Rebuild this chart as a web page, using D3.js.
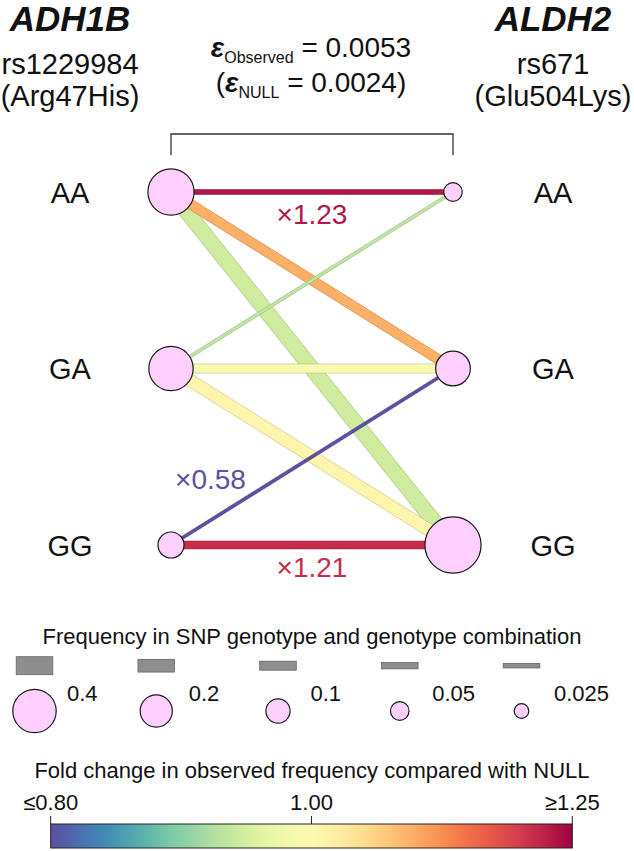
<!DOCTYPE html>
<html>
<head>
<meta charset="utf-8">
<script src="https://cdn.jsdelivr.net/npm/d3@7"></script>
<style>
  body { margin: 0; background: #fff; }
  svg text { font-family: "Liberation Sans", Arial, sans-serif; fill: #111; }
</style>
</head>
<body>
<div id="chart"></div>
<script>
// genotype network between ADH1B and ALDH2

// --- data ---
var genotypes = ['AA', 'GA', 'GG'];
var leftFreq = [0.46, 0.42, 0.12];   // ADH1B rs1229984
var rightFreq = [0.05, 0.24, 0.71];  // ALDH2 rs671

// combinations: left genotype -> right genotype
var pairLeft = ['AA', 'AA', 'AA', 'GA', 'GA', 'GA', 'GG', 'GG'];
var pairRight = ['AA', 'GA', 'GG', 'AA', 'GA', 'GG', 'GA', 'GG'];
var pairFreq = [0.028, 0.12, 0.29, 0.012, 0.105, 0.19, 0.012, 0.075];
var pairFold = [1.23, 1.09, 0.94, 0.93, 0.99, 1.01, 0.58, 1.21];

// fold change labels written on the chart
var labelPair = [0, 7, 6];
var labelText = ['×1.23', '×1.21', '×0.58'];

var legendFreq = [0.4, 0.2, 0.1, 0.05, 0.025];
var colorTicks = [0.8, 1.0, 1.25];
var colorTickLabels = ['≤0.80', '1.00', '≥1.25'];

// --- svg ---
var svgWidth = 634;
var svgHeight = 851;

var svg = d3.select('#chart')
  .append('svg')
  .attr('width', svgWidth)
  .attr('height', svgHeight);

// scales
var xSide = d3.scalePoint().domain(['ADH1B', 'ALDH2']).range([171, 453]);
var yGeno = d3.scalePoint().domain(genotypes).range([192, 545]);
var edgeWidth = d3.scaleSqrt().domain([0, 0.4]).range([0, 18]);
var nodeRadius = d3.scaleSqrt().domain([0, 0.4]).range([2.5, 21.7]);
var color = d3.scaleDivergingLog()
  .domain([0.8, 1, 1.25])
  .interpolator(function(t) { return d3.interpolateSpectral(1 - t); })
  .clamp(true);

// --- header ---
function header(x, gene, snp, change) {
  svg.append('text')
    .attr('x', x).attr('y', 31)
    .attr('text-anchor', 'middle')
    .style('font-size', '35px').style('font-weight', 'bold').style('font-style', 'italic')
    .text(gene);
  svg.append('text')
    .attr('x', x).attr('y', 74)
    .attr('text-anchor', 'middle')
    .style('font-size', '29px')
    .text(snp);
  svg.append('text')
    .attr('x', x).attr('y', 106)
    .attr('text-anchor', 'middle')
    .style('font-size', '29px')
    .text(change);
}
header(70, 'ADH1B', 'rs1229984', '(Arg47His)');
header(553, 'ALDH2', 'rs671', '(Glu504Lys)');

var eps1 = svg.append('text')
  .attr('x', 311).attr('y', 57)
  .attr('text-anchor', 'middle')
  .style('font-size', '28px');
eps1.append('tspan').style('font-style', 'italic').style('font-weight', 'bold').text('ε');
eps1.append('tspan').attr('dy', 6).style('font-size', '16px').text('Observed');
eps1.append('tspan').attr('dy', -6).text(' = 0.0053');

var eps2 = svg.append('text')
  .attr('x', 311).attr('y', 92)
  .attr('text-anchor', 'middle')
  .style('font-size', '28px');
eps2.append('tspan').text('(');
eps2.append('tspan').style('font-style', 'italic').style('font-weight', 'bold').text('ε');
eps2.append('tspan').attr('dy', 6).style('font-size', '16px').text('NULL');
eps2.append('tspan').attr('dy', -6).text(' = 0.0024)');

// bracket
svg.append('path')
  .attr('d', d3.line()([[xSide('ADH1B'), 155], [xSide('ADH1B'), 134], [xSide('ALDH2'), 134], [xSide('ALDH2'), 155]]))
  .attr('fill', 'none')
  .attr('stroke', '#333')
  .attr('stroke-width', 1.3);

// --- edges ---
function band(x1, y1, x2, y2, w) {
  var dx = x2 - x1, dy = y2 - y1;
  var len = Math.sqrt(dx * dx + dy * dy);
  var nx = -dy / len * w / 2, ny = dx / len * w / 2;
  return d3.line()([[x1 + nx, y1 + ny], [x2 + nx, y2 + ny], [x2 - nx, y2 - ny], [x1 - nx, y1 - ny]]) + 'Z';
}

var edges = pairLeft.map(function(l, i) {
  return { l: l, r: pairRight[i], f: pairFreq[i], fold: pairFold[i], i: i };
});
edges.sort(function(a, b) { return b.f - a.f; });

svg.append('g').selectAll('path')
  .data(edges)
  .enter()
  .append('path')
  .attr('d', function(d) {
    return band(xSide('ADH1B'), yGeno(d.l), xSide('ALDH2'), yGeno(d.r), edgeWidth(d.f));
  })
  .attr('fill', function(d) { return color(d.fold); })
  .attr('stroke', function(d) { return d3.color(color(d.fold)).darker(0.7); })
  .attr('stroke-width', 0.6);

// --- nodes ---
var nodeGroup = svg.append('g');
nodeGroup.selectAll('circle.left')
  .data(genotypes)
  .enter()
  .append('circle')
  .attr('cx', xSide('ADH1B'))
  .attr('cy', function(d) { return yGeno(d); })
  .attr('r', function(d, i) { return nodeRadius(leftFreq[i]); });
nodeGroup.selectAll('circle.right')
  .data(genotypes)
  .enter()
  .append('circle')
  .attr('cx', xSide('ALDH2'))
  .attr('cy', function(d) { return yGeno(d); })
  .attr('r', function(d, i) { return nodeRadius(rightFreq[i]); });
nodeGroup.selectAll('circle')
  .attr('fill', '#ffd0ff')
  .attr('stroke', '#1a1a1a')
  .attr('stroke-width', 1.2);

// genotype labels
[70, 553].forEach(function(x) {
  svg.append('g').selectAll('text')
    .data(genotypes)
    .enter()
    .append('text')
    .attr('x', x)
    .attr('y', function(d) { return yGeno(d) + 10.5; })
    .attr('text-anchor', 'middle')
    .style('font-size', '29px')
    .text(function(d) { return d; });
});

// fold change labels
labelPair.forEach(function(p, k) {
  var x1 = xSide('ADH1B'), y1 = yGeno(pairLeft[p]);
  var x2 = xSide('ALDH2'), y2 = yGeno(pairRight[p]);
  var t = (y1 === y2) ? 0.5 : 0.14;
  var off = (y1 === y2) ? 32 : -31;
  svg.append('text')
    .attr('x', x1 + (x2 - x1) * t)
    .attr('y', y1 + (y2 - y1) * t + off)
    .attr('text-anchor', 'middle')
    .style('font-size', '28px')
    .style('fill', color(pairFold[p]))
    .text(labelText[k]);
});

// --- size legend ---
svg.append('text')
  .attr('x', 312).attr('y', 644)
  .attr('text-anchor', 'middle')
  .style('font-size', '22px')
  .text('Frequency in SNP genotype and genotype combination');

var legendX = d3.scalePoint().domain(legendFreq).range([34.5, 521.5]);
var legend = svg.append('g').selectAll('g')
  .data(legendFreq)
  .enter()
  .append('g')
  .attr('transform', function(d) { return 'translate(' + legendX(d) + ',0)'; });

legend.append('rect')
  .attr('x', -18.3)
  .attr('width', 36.6)
  .attr('y', function(d) { return 665.7 - edgeWidth(d) / 2; })
  .attr('height', function(d) { return edgeWidth(d); })
  .attr('fill', '#8e8e8e')
  .attr('stroke', '#666')
  .attr('stroke-width', 0.8);

legend.append('circle')
  .attr('cy', 711)
  .attr('r', function(d) { return nodeRadius(d); })
  .attr('fill', '#ffd0ff')
  .attr('stroke', '#1a1a1a')
  .attr('stroke-width', 1.2);

legend.append('text')
  .attr('x', 32.5)
  .attr('y', 701)
  .style('font-size', '22px')
  .text(function(d) { return d; });

// --- colour bar ---
svg.append('text')
  .attr('x', 312).attr('y', 778)
  .attr('text-anchor', 'middle')
  .style('font-size', '22px')
  .text('Fold change in observed frequency compared with NULL');

var barX = d3.scaleLog().domain([0.8, 1.25]).range([50.7, 572.3]);

var grad = svg.append('defs').append('linearGradient')
  .attr('id', 'foldGrad')
  .attr('x1', '0%').attr('x2', '100%');
d3.range(0, 1.0001, 0.05).forEach(function(t) {
  grad.append('stop')
    .attr('offset', (t * 100) + '%')
    .attr('stop-color', color(barX.invert(barX.range()[0] + t * (barX.range()[1] - barX.range()[0]))));
});

svg.append('rect')
  .attr('x', barX(0.8))
  .attr('y', 824)
  .attr('width', barX(1.25) - barX(0.8))
  .attr('height', 24)
  .attr('fill', 'url(#foldGrad)')
  .attr('stroke', '#222')
  .attr('stroke-width', 1);

var ticks = svg.append('g').selectAll('g')
  .data(colorTicks)
  .enter()
  .append('g')
  .attr('transform', function(d) { return 'translate(' + barX(d) + ',0)'; });
ticks.append('line')
  .attr('y1', 816).attr('y2', 824)
  .attr('stroke', '#222').attr('stroke-width', 1);
ticks.append('text')
  .attr('y', 810)
  .attr('text-anchor', 'middle')
  .style('font-size', '22px')
  .text(function(d, i) { return colorTickLabels[i]; });
</script>
</body>
</html>
